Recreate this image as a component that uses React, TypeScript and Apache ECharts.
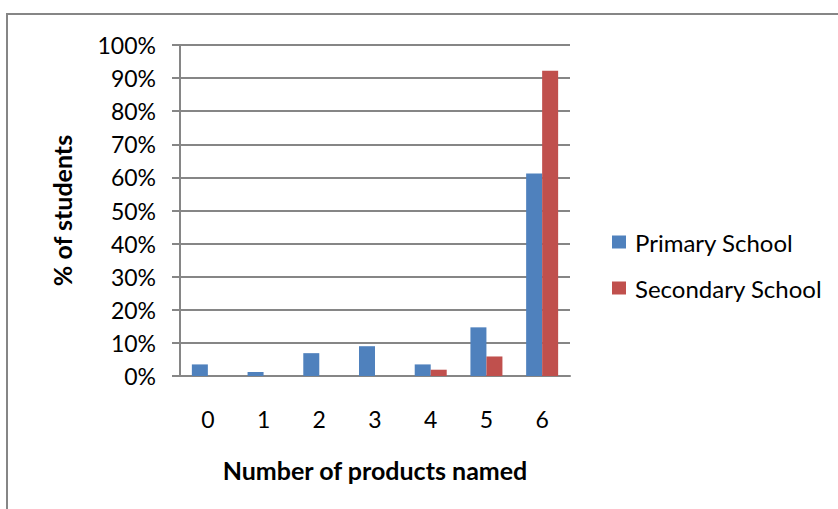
import React, { useEffect, useRef } from "react";
import * as echarts from "echarts";

const categories = ["0", "1", "2", "3", "4", "5", "6"];
const primarySchool = [3.5, 1.2, 6.9, 9.0, 3.5, 14.7, 61.2];
const secondarySchool = [0, 0, 0, 0, 1.9, 5.9, 92.2];
const seriesNames = ["Primary School", "Secondary School"];
const yTitle = "% of students";
const xTitle = "Number of products named";

const FONT = "Lato, 'Open Sans', sans-serif";
const GRID_COLOR = "#868686";

export default function App() {
  const ref = useRef<HTMLDivElement>(null);

  useEffect(() => {
    if (!ref.current) return;
    const chart = echarts.init(ref.current, undefined, { renderer: "svg" });
    chart.setOption({
      animation: false,
      backgroundColor: "#ffffff",
      textStyle: { fontFamily: FONT },
      graphic: [
        {
          type: "rect",
          shape: { x: 7, y: 14, width: 900, height: 600 },
          style: { fill: "none", stroke: GRID_COLOR, lineWidth: 2 },
          silent: true,
        },
      ],
      grid: { left: 180, right: 268, top: 45, bottom: 133 },
      legend: {
        orient: "vertical",
        left: 612,
        top: 230,
        padding: 0,
        itemWidth: 14,
        itemHeight: 13,
        itemGap: 22,
        icon: "rect",
        textStyle: { fontSize: 24, color: "#000", fontFamily: FONT, padding: [0, 0, 0, 4] },
        data: seriesNames,
      },
      xAxis: {
        type: "category",
        data: categories,
        name: xTitle,
        nameLocation: "middle",
        nameGap: 81,
        nameTextStyle: { fontSize: 25, fontWeight: "bold", color: "#000", fontFamily: FONT },
        axisLine: { lineStyle: { color: GRID_COLOR, width: 2 } },
        axisTick: { show: false },
        axisLabel: { color: "#000", fontSize: 23, margin: 31, fontFamily: FONT },
      },
      yAxis: {
        type: "value",
        min: 0,
        max: 100,
        interval: 10,
        name: yTitle,
        nameLocation: "middle",
        nameGap: 106,
        nameRotate: 90,
        nameTextStyle: { fontSize: 25, fontWeight: "bold", color: "#000", fontFamily: FONT },
        axisLine: { show: true, lineStyle: { color: GRID_COLOR, width: 2 } },
        axisTick: { show: true, length: 8, lineStyle: { color: GRID_COLOR, width: 2 } },
        splitLine: { lineStyle: { color: GRID_COLOR, width: 2 } },
        axisLabel: { color: "#000", fontSize: 23, margin: 24, formatter: "{value}%", fontFamily: FONT },
      },
      series: [
        {
          name: seriesNames[0],
          type: "bar",
          data: primarySchool,
          barWidth: 16,
          barGap: "0%",
          itemStyle: { color: "#4F81BD" },
        },
        {
          name: seriesNames[1],
          type: "bar",
          data: secondarySchool,
          barWidth: 16,
          barGap: "0%",
          itemStyle: { color: "#C0504D" },
        },
      ],
    });
    return () => chart.dispose();
  }, []);

  return (
    <div
      ref={ref}
      style={{ position: "absolute", left: 0, top: 0, width: 838, height: 509 }}
    />
  );
}
